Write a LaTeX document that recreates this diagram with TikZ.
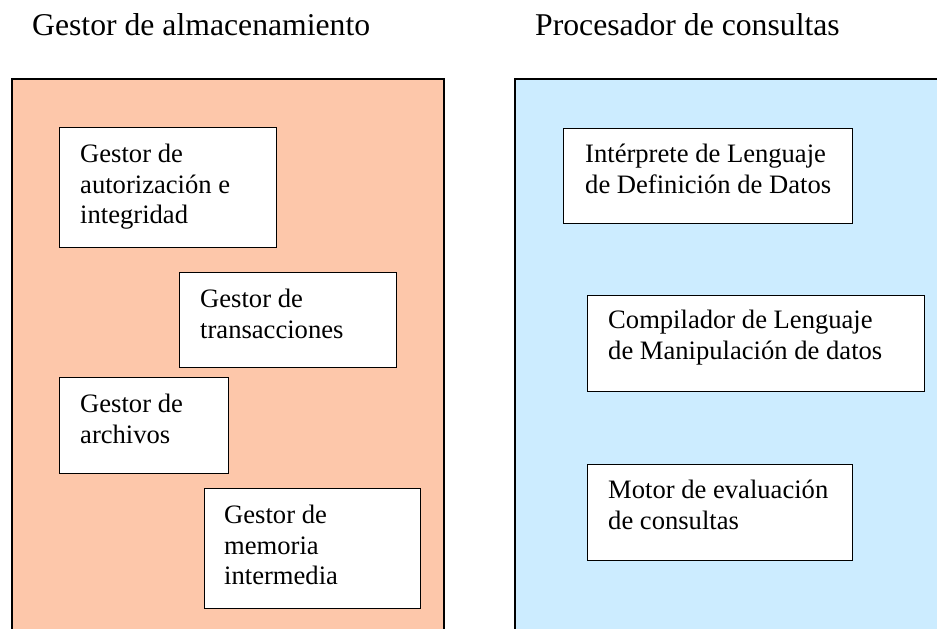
\documentclass[tikz,border=0pt]{standalone}
\usepackage{fontspec}
\setmainfont{Liberation Serif}
\definecolor{peach}{RGB}{253,199,170}
\definecolor{skyb}{RGB}{204,236,255}
\begin{document}
\begin{tikzpicture}[x=1pt,y=-1pt,
  panel/.style={draw=black,line width=1.5pt},
  compbox/.style={draw=black,fill=white,line width=1.3pt,rectangle,inner sep=0pt,anchor=north west},
  lbl/.style={anchor=north west,inner sep=0pt,align=left,font=\fontsize{26.6}{30.8}\selectfont},
  ttl/.style={anchor=base west,inner sep=0pt,font=\fontsize{31.7}{36}\selectfont}]
\useasboundingbox (0,0) rectangle (937,629);
\clip (0,0) rectangle (937,629);
% titles
\node[ttl] (t1) at (32,35) {Gestor de almacenamiento};
\node[ttl] (t2) at (535,35) {Procesador de consultas};
% panels
\fill[peach] (12,79) rectangle (444,640);
\draw[panel] (12,640) -- (12,79) -- (444,79) -- (444,640);
\fill[skyb] (515,79) rectangle (950,640);
\draw[panel] (515,640) -- (515,79) -- (950,79);
% left boxes
\node[compbox,minimum width=217pt,minimum height=120pt] (b1) at (59,127) {};
\node[lbl] (l1) at (80,162-21.56) {\strut Gestor de\\\strut autorización e\\\strut integridad};
\node[compbox,minimum width=217pt,minimum height=95pt] (b2) at (179,272) {};
\node[lbl] (l2) at (200,307-21.56) {\strut Gestor de\\\strut transacciones};
\node[compbox,minimum width=169pt,minimum height=96pt] (b3) at (59,377) {};
\node[lbl] (l3) at (80,412-21.56) {\strut Gestor de\\\strut archivos};
\node[compbox,minimum width=216pt,minimum height=120pt] (b4) at (204,488) {};
\node[lbl] (l4) at (224,523-21.56) {\strut Gestor de\\\strut memoria\\\strut intermedia};
% right boxes
\node[compbox,minimum width=289pt,minimum height=95pt] (r1) at (563,128) {};
\node[lbl] (m1) at (585,162-21.56) {\strut Intérprete de Lenguaje\\\strut de Definición de Datos};
\node[compbox,minimum width=337pt,minimum height=96pt] (r2) at (587,295) {};
\node[lbl] (m2) at (608,328-21.56) {\strut Compilador de Lenguaje\\\strut de Manipulación de datos};
\node[compbox,minimum width=265pt,minimum height=96pt] (r3) at (587,464) {};
\node[lbl] (m3) at (608,498-21.56) {\strut Motor de evaluación\\\strut de consultas};
\end{tikzpicture}
\end{document}
